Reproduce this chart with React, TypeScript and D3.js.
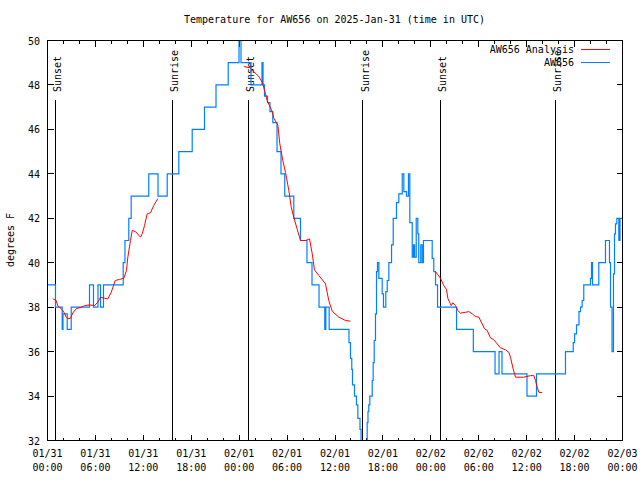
import React from 'react';
import * as d3 from 'd3';

// ---- data (hours since 2025-01-31 00:00 UTC) ----
const obsHours = [
  0, 1.0, 1.84, 1.94, 2.47, 2.97, 5.26, 5.76, 6.32, 6.64, 7.01, 9.48, 9.7, 10.18, 10.48,
  12.68, 13.84, 14.99, 16.44, 18.12, 19.66, 21.1, 22.63, 23.98, 24.23, 25.48, 26.86, 26.99,
  27.17, 27.55, 27.86, 28.21, 28.74, 29.24, 29.71, 30.84, 31.68, 32.49, 33.12, 34.0, 34.72,
  34.85, 35.27, 37.75, 37.94, 38.1, 38.19, 38.44, 38.69, 38.86, 39.13, 39.26, 40.03, 40.13,
  40.23, 40.36, 40.66, 40.78, 40.91, 41.07, 41.2, 41.32, 41.49, 41.91, 42.07, 42.36, 42.54,
  42.74, 43.08, 43.29, 43.7, 43.99, 44.42, 44.62, 44.95, 45.2, 45.37, 45.67, 45.83, 45.96,
  46.17, 46.37, 46.49, 46.74, 46.92, 47.08, 48.17, 48.37, 48.59, 48.84, 51.22, 53.32, 56.04,
  56.54, 56.91, 60.04, 61.23, 64.86, 65.83, 66.0, 66.24, 66.55, 66.74, 66.95, 67.15, 67.99,
  68.12, 68.24, 69.03, 69.87, 70.37, 70.5, 70.69, 70.87, 71.0, 71.12, 71.29, 71.54, 71.69, 72,
];
const obsTemps = [
  39, 38, 37, 37.7, 37, 38, 39, 38, 39, 38, 39, 40, 41, 42, 43,
  44, 43, 44, 45, 46, 47, 48, 49, 50, 49, 48, 49, 48,
  47.5, 47.2, 46.8, 46.3, 45, 44, 43, 42, 41, 40, 39, 38, 37,
  38, 37, 36.4, 35.7, 35.2, 34.5, 34.0, 33.6, 33.0, 32.5, 31, 32.8, 33.3,
  33.6, 34.0, 34.7, 35.5, 36.5, 37.7, 39.6, 40.0, 39.3, 38.6, 38.0, 38.7, 39.2,
  40.0, 40.8, 42.0, 42.7, 43.1, 44.0, 43.2, 43.0, 44.0, 41.8, 40.25, 40.8, 40.25,
  42.0, 41.3, 40.0, 40.8, 40.0, 41.0, 40.2, 39.6, 39.0, 38.0, 37, 36, 35,
  36, 35, 34, 35, 36, 36.4, 36.8, 37.2, 37.8, 38.0, 38.3, 39.0, 39.3,
  40.0, 39.0, 40.0, 41.0, 40.0, 38.0, 36.0, 39.5, 41.3, 41.75, 42.0, 41.0, 42.0, 42.0,
];

const analysisHours = [
  0.66, 1.09, 1.29, 1.72, 2.04, 2.34, 2.54, 2.88, 3.17, 3.59, 4.22, 4.63, 5.26, 5.89, 6.3,
  6.64, 7.14, 7.55, 7.98, 8.48, 9.02, 9.55, 9.89, 10.06, 10.39, 10.61, 11.02, 11.65, 11.86,
  12.15, 12.48, 12.9, 13.31, 13.81,
  null,
  24.58, 25.42, 25.63, 26.42, 26.92, 27.51, 28.14, 28.34, 28.84, 29.09, 29.46, 29.8, 30.22,
  30.52, 30.84, 31.27, 31.68, 32.31, 32.81, 33.15, 33.43, 33.97, 34.81, 35.22, 35.65, 36.48,
  37.32, 37.94,
  null,
  48.59, 49.21, 49.42, 49.62, 49.96, 50.13, 50.38, 50.55, 50.75, 51.09, 51.38, 51.72, 52.34,
  52.76, 53.18, 53.59, 54.01, 54.43, 54.72, 55.06, 55.47, 55.89, 56.31, 56.72, 57.35, 57.76,
  57.97, 58.31, 58.6, 59.64, 60.48, 60.9, 61.11, 61.32, 61.52, 61.95,
];
const analysisTemps = [
  38.38, 38.3, 38.05, 37.93, 37.78, 37.55, 37.48, 37.5, 37.74, 37.93, 38.0, 38.07, 38.1, 38.07, 38.22,
  38.45, 38.4, 38.37, 38.67, 39.2, 39.25, 39.3, 39.65, 40.25, 41.0, 41.45, 41.4, 41.15, 41.3,
  41.67, 42.2, 42.25, 42.58, 42.88,
  null,
  48.83, 48.77, 48.65, 48.4, 48.1, 47.3, 46.8, 46.5, 46.2, 45.35, 44.6, 44.07, 43.25,
  42.5, 42.05, 41.5, 41.0, 41.0, 41.07, 40.4, 39.68, 39.43, 39.05, 38.3, 37.82, 37.55,
  37.4, 37.37,
  null,
  39.6, 39.3, 39.13, 38.97, 38.8, 38.4, 38.2, 38.07, 38.2, 38.07, 37.85, 37.73, 37.77,
  37.8, 37.7, 37.58, 37.55, 37.25, 37.03, 36.95, 36.62, 36.53, 36.35, 36.17, 36.08, 35.97,
  35.75, 35.22, 34.85, 34.85, 34.92, 34.92, 34.7, 34.4, 34.17, 34.15,
];

const eventHours = [1.0, 15.59, 25.11, 39.5, 49.15, 63.55];
const eventLabels = ['Sunset', 'Sunrise', 'Sunset', 'Sunrise', 'Sunset', 'Sunrise'];

const xTickDates = ['01/31', '01/31', '01/31', '01/31', '02/01', '02/01', '02/01', '02/01', '02/02', '02/02', '02/02', '02/02', '02/03'];
const xTickTimes = ['00:00', '06:00', '12:00', '18:00', '00:00', '06:00', '12:00', '18:00', '00:00', '06:00', '12:00', '18:00', '00:00'];
const yTicks = [32, 34, 36, 38, 40, 42, 44, 46, 48, 50];

const titleText = 'Temperature for AW656 on 2025-Jan-31 (time in UTC)';
const yLabelText = 'degrees F';
const seriesNames = ['AW656 Analysis', 'AW656'];

const FONT = "'DejaVu Sans Mono', 'Liberation Mono', monospace";
const RED = '#ff0000';
const BLUE = '#0080ff';

export default function App() {
  const left = 47, right = 622, top = 40, bottom = 440;
  const x = d3.scaleLinear().domain([0, 72]).range([left + 0.5, right + 0.5]);
  const y = d3.scaleLinear().domain([32, 50]).range([bottom + 0.5, top + 0.5]);

  const obs: [number, number][] = obsHours.map((h, i) => [h, obsTemps[i]]);
  const ana: [number | null, number | null][] = analysisHours.map((h, i) => [h, analysisTemps[i]]);

  const obsLine = d3.line<[number, number]>()
    .x(d => x(d[0]))
    .y(d => y(d[1]))
    .curve(d3.curveStepAfter);
  const anaLine = d3.line<[number | null, number | null]>()
    .defined(d => d[0] != null && d[1] != null)
    .x(d => x(d[0] as number))
    .y(d => y(d[1] as number));

  const majorX = d3.range(0, 73, 6);
  const minorX = d3.range(0, 73, 2).filter(h => h % 6 !== 0);
  const majorLen = 6, minorLen = 3;

  return (
    <svg width={640} height={480} style={{ position: 'absolute', left: 0, top: 0, background: '#fff' }}
      fontFamily={FONT} fontSize={10}>
      <defs>
        <clipPath id="plotclip">
          <rect x={left} y={top} width={right - left + 1} height={bottom - top + 1} />
        </clipPath>
      </defs>
      <rect x={0} y={0} width={640} height={480} fill="#fff" />

      {/* ticks */}
      <g stroke="#000" strokeWidth={1} shapeRendering="crispEdges">
        {majorX.map((h, i) => (
          <g key={'mx' + i}>
            <line x1={x(h)} x2={x(h)} y1={bottom + 0.5} y2={bottom + 0.5 - majorLen} />
            <line x1={x(h)} x2={x(h)} y1={top + 0.5} y2={top + 0.5 + majorLen} />
          </g>
        ))}
        {minorX.map((h, i) => (
          <g key={'nx' + i}>
            <line x1={x(h)} x2={x(h)} y1={bottom + 0.5} y2={bottom + 0.5 - minorLen} />
            <line x1={x(h)} x2={x(h)} y1={top + 0.5} y2={top + 0.5 + minorLen} />
          </g>
        ))}
        {yTicks.map((t, i) => (
          <g key={'yt' + i}>
            <line x1={left + 0.5} x2={left + 0.5 + majorLen} y1={y(t)} y2={y(t)} />
            <line x1={right + 0.5} x2={right + 0.5 - majorLen} y1={y(t)} y2={y(t)} />
          </g>
        ))}
      </g>

      {/* event lines */}
      <g>
        {eventHours.map((h, i) => (
          <g key={'ev' + i}>
            <line x1={x(h)} x2={x(h)} y1={100} y2={bottom} stroke="#000" strokeWidth={1} shapeRendering="crispEdges" />
            <text transform={`translate(${x(h) + 6},92) rotate(-90)`} fill="#000">{eventLabels[i]}</text>
          </g>
        ))}
      </g>

      {/* data */}
      <g clipPath="url(#plotclip)">
        <path d={obsLine(obs) || ''} fill="none" stroke={BLUE} strokeWidth={1.2} />
        <path d={anaLine(ana) || ''} fill="none" stroke={RED} strokeWidth={1} />
      </g>

      {/* border */}
      <rect x={left + 0.5} y={top + 0.5} width={right - left} height={bottom - top}
        fill="none" stroke="#000" strokeWidth={1} shapeRendering="crispEdges" />

      {/* y tick labels */}
      {yTicks.map((t, i) => (
        <text key={'yl' + i} x={40} y={y(t) + 4} textAnchor="end" fill="#000">{t}</text>
      ))}

      {/* x tick labels */}
      {majorX.map((h, i) => (
        <g key={'xl' + i}>
          <text x={x(h)} y={457} textAnchor="middle" fill="#000">{xTickDates[i]}</text>
          <text x={x(h)} y={471} textAnchor="middle" fill="#000">{xTickTimes[i]}</text>
        </g>
      ))}

      {/* title */}
      <text x={(left + right) / 2} y={23} textAnchor="middle" fill="#000">{titleText}</text>

      {/* y label */}
      <text transform="translate(14,240) rotate(-90)" textAnchor="middle" fill="#000">{yLabelText}</text>

      {/* legend */}
      <text x={574} y={53} textAnchor="end" fill="#000">{seriesNames[0]}</text>
      <line x1={581} x2={610} y1={49.5} y2={49.5} stroke={RED} strokeWidth={1} />
      <text x={574} y={66} textAnchor="end" fill="#000">{seriesNames[1]}</text>
      <line x1={581} x2={610} y1={62.5} y2={62.5} stroke={BLUE} strokeWidth={1} />
    </svg>
  );
}
